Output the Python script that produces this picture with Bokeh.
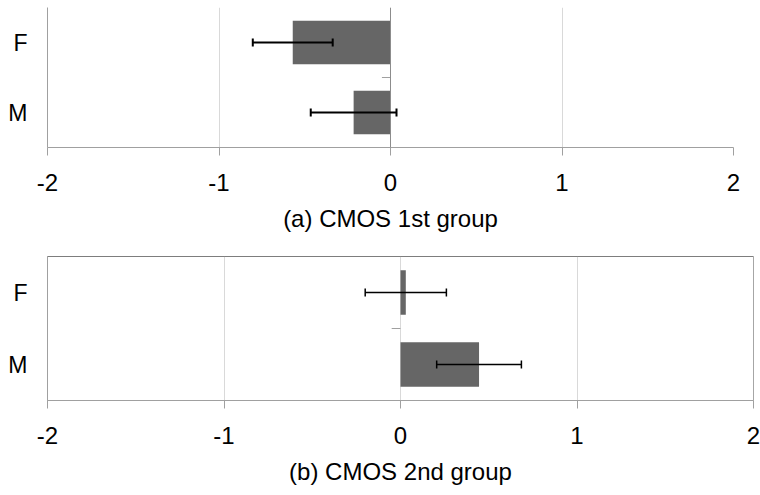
from bokeh.plotting import figure
from bokeh.models import Range1d, FixedTicker, Span, Whisker, ColumnDataSource, TeeHead
from bokeh.layouts import column
from bokeh.embed import file_html
from bokeh.resources import INLINE

# ---- data ----
categories = ["F", "M"]
x_ticks = [-2, -1, 0, 1, 2]
x_tick_labels = ["-2", "-1", "0", "1", "2"]
group1_means = [-0.57, -0.215]
group1_errors = [0.233, 0.25]
group2_means = [0.03, 0.445]
group2_errors = [0.23, 0.24]
titles = ["(a) CMOS 1st group", "(b) CMOS 2nd group"]

FONT = "Liberation Sans"


def make_panel(means, errors, title, frame_w, frame_h, left, right, top, bottom,
               boxed, err_w, zero_line):
    n = len(categories)
    ypos = [n - i - 0.5 for i in range(n)]
    src = ColumnDataSource(dict(
        y=ypos, m=means,
        lo=[m - e for m, e in zip(means, errors)],
        hi=[m + e for m, e in zip(means, errors)],
    ))
    p = figure(frame_width=frame_w, frame_height=frame_h,
               x_range=Range1d(x_ticks[0], x_ticks[-1]), y_range=Range1d(0, n),
               output_backend="svg", toolbar_location=None,
               min_border_left=left, min_border_right=right,
               min_border_top=top, min_border_bottom=bottom)
    p.background_fill_color = "white"
    p.border_fill_color = "white"
    p.outline_line_color = "#a6a6a6" if boxed else None

    # grid
    p.xgrid.ticker = FixedTicker(ticks=x_ticks)
    p.xgrid.grid_line_color = "#d9d9d9"
    p.ygrid.visible = False

    # bars
    p.hbar(y="y", left=0, right="m", height=0.62, source=src,
           fill_color="#666666", line_color=None)

    # category axis at zero
    if zero_line:
        p.add_layout(Span(location=0, dimension="height",
                          line_color="#8c8c8c", line_width=1))
    bounds = [float(k) for k in range(1, n)]
    p.segment(x0=[-0.05] * len(bounds), x1=[0] * len(bounds),
              y0=bounds, y1=bounds, line_color="#a0a0a0", line_width=1)

    if boxed:
        p.add_layout(Span(location=n, dimension="width",
                          line_color="#555555", line_width=1.2))

    # error bars
    head = dict(size=8, line_color="black", line_width=err_w)
    p.add_layout(Whisker(source=src, base="y", lower="lo", upper="hi",
                         dimension="width", line_color="black", line_width=err_w,
                         level="annotation",
                         upper_head=TeeHead(**head), lower_head=TeeHead(**head)))

    # x axis
    xa = p.xaxis[0]
    xa.ticker = FixedTicker(ticks=x_ticks)
    xa.major_label_overrides = {t: s for t, s in zip(x_ticks, x_tick_labels)}
    xa.minor_tick_line_color = None
    xa.major_tick_in = 0
    xa.major_tick_out = 8
    xa.major_tick_line_color = "#a0a0a0"
    xa.axis_line_color = "#a0a0a0"
    xa.major_label_text_font = FONT
    xa.major_label_text_font_size = "24px"
    xa.major_label_text_color = "black"
    xa.major_label_standoff = 18
    xa.axis_label = title
    xa.axis_label_text_font = FONT
    xa.axis_label_text_font_size = "24px"
    xa.axis_label_text_font_style = "normal"
    xa.axis_label_text_color = "black"
    xa.axis_label_standoff = 11

    # y axis
    ya = p.yaxis[0]
    ya.ticker = FixedTicker(ticks=ypos)
    ya.major_label_overrides = {y: c for y, c in zip(ypos, categories)}
    ya.minor_tick_line_color = None
    ya.major_tick_line_color = None
    ya.major_tick_in = 0
    ya.major_tick_out = 0
    ya.axis_line_color = "#a0a0a0"
    ya.major_label_text_font = FONT
    ya.major_label_text_font_size = "23px"
    ya.major_label_text_color = "black"
    ya.major_label_standoff = 20
    return p


p1 = make_panel(group1_means, group1_errors, titles[0],
                frame_w=686, frame_h=140, left=47, right=27, top=7, bottom=101,
                boxed=False, err_w=2, zero_line=True)
p2 = make_panel(group2_means, group2_errors, titles[1],
                frame_w=706, frame_h=144, left=45, right=9, top=8, bottom=95,
                boxed=True, err_w=1.5, zero_line=False)

layout = column(p1, p2, spacing=0)
open("out.html", "w").write(file_html(layout, INLINE))
